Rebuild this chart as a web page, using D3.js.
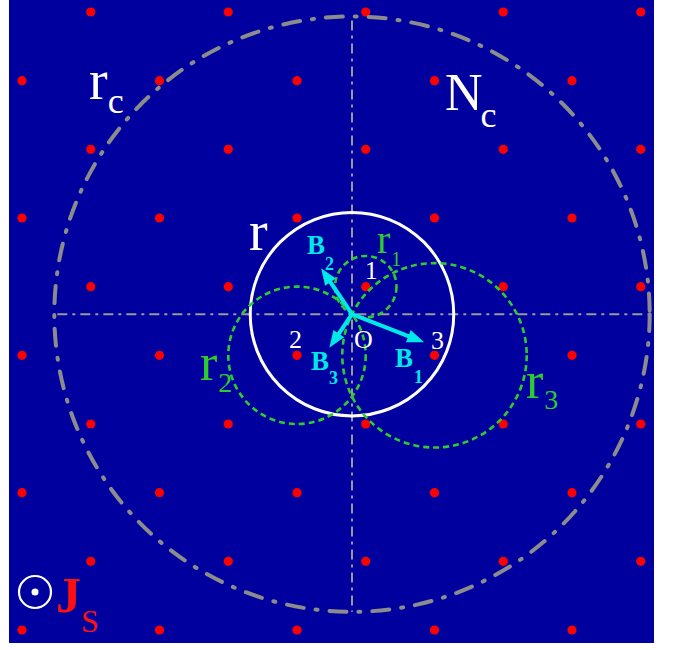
<!DOCTYPE html>
<html>
<head>
<meta charset="utf-8">
<script src="https://cdn.jsdelivr.net/npm/d3@7"></script>
<style>
  html,body{margin:0;padding:0;background:#fff;}
  svg{display:block;}
  text{font-family:"Liberation Serif","Times New Roman",serif;}
</style>
</head>
<body>
<script>
// ---- data (lattice units) ----
const latticeU = [0,1,2,3,4,5,6,7,8,9];
const latticeV = [0,1,2,3,4,5,6,7,8,9];
const origin = {u:4.8, v:4.4};
const cutoffRadius = 4.33;   // r_c
const innerRadius = 1.48;    // r
const neighbours = [ {name:"1", u:5, v:4}, {name:"2", u:4, v:5}, {name:"3", u:6, v:5} ];
const bVectors = [ {name:"1", du:1.05, dv:0.41}, {name:"2", du:-0.45, dv:-0.67}, {name:"3", du:-0.33, dv:0.49} ];

const W = 678, H = 650;
const svg = d3.select("body").append("svg").attr("width", W).attr("height", H);

const x = d3.scaleLinear().domain([0, 9]).range([22, 640.75]);
const y = d3.scaleLinear().domain([0, 9]).range([12, 630]);
const k = (x(1) - x(0)); // px per unit

// background
svg.append("rect").attr("x", 9).attr("y", 0).attr("width", 645).attr("height", 643).attr("fill", "#00009e");

const ox = x(origin.u), oy = y(origin.v);

// lattice points
const pts = [];
latticeV.forEach(v => latticeU.forEach(u => { if ((u + v) % 2 === 1) pts.push({u, v}); }));
svg.append("g").selectAll("circle").data(pts).join("circle")
  .attr("cx", d => x(d.u)).attr("cy", d => y(d.v)).attr("r", 4.6).attr("fill", "#ff0000");

// crosshair
const gray = "#8c8c8c";
svg.append("line").attr("x1", ox - cutoffRadius * k + 3).attr("x2", ox + cutoffRadius * k - 2)
  .attr("y1", oy).attr("y2", oy).attr("stroke", "#999").attr("stroke-width", 2).attr("stroke-dasharray", "10,5,3,5");
svg.append("line").attr("x1", ox).attr("x2", ox)
  .attr("y1", oy - cutoffRadius * k + 4).attr("y2", oy + cutoffRadius * k)
  .attr("stroke", "#999").attr("stroke-width", 2).attr("stroke-dasharray", "10,5,3,5");

// cutoff circle
svg.append("circle").attr("cx", ox).attr("cy", oy).attr("r", cutoffRadius * k)
  .attr("fill", "none").attr("stroke", gray).attr("stroke-width", 4)
  .attr("stroke-linecap", "round").attr("stroke-dasharray", "17,12,2,12");

// inner circle r
svg.append("circle").attr("cx", ox).attr("cy", oy).attr("r", innerRadius * k)
  .attr("fill", "none").attr("stroke", "#ffffff").attr("stroke-width", 3);

// neighbour circles through O
const green = "#2fcc2f";
svg.append("g").selectAll("circle").data(neighbours).join("circle")
  .attr("cx", d => x(d.u)).attr("cy", d => y(d.v))
  .attr("r", d => Math.hypot(x(d.u) - ox, y(d.v) - oy))
  .attr("fill", "none").attr("stroke", green).attr("stroke-width", 2.6).attr("stroke-dasharray", "6,4");

// B vectors
const cyan = "#00e8e8";
bVectors.forEach(b => {
  const tx = x(origin.u + b.du), ty = y(origin.v + b.dv);
  const ang = Math.atan2(ty - oy, tx - ox);
  const hl = 17, hw = 6.5;
  const bx = tx - hl * Math.cos(ang), by = ty - hl * Math.sin(ang);
  svg.append("line").attr("x1", ox).attr("y1", oy).attr("x2", bx + 2 * Math.cos(ang)).attr("y2", by + 2 * Math.sin(ang))
    .attr("stroke", cyan).attr("stroke-width", 4.2);
  const px = -Math.sin(ang), py = Math.cos(ang);
  svg.append("path").attr("d", `M${tx},${ty}L${bx + hw * px},${by + hw * py}L${bx - hw * px},${by - hw * py}Z`)
    .attr("fill", cyan);
});

// labels
function lab(txt, xx, yy, size, color, weight, sub, subSize, subDx, subDy, subWeight) {
  const t = svg.append("text").attr("x", xx).attr("y", yy).attr("font-size", size)
    .attr("fill", color).attr("font-weight", weight || "normal");
  t.append("tspan").text(txt);
  if (sub) {
    t.append("tspan").attr("dx", subDx).attr("dy", subDy).attr("font-size", subSize)
      .attr("font-weight", subWeight || weight || "normal").text(sub);
  }
}
lab("r", 249, 250, 56, "#fff");
lab("r", 89, 99, 56, "#fff", null, "c", 36, 0, 14);
lab("N", 445, 110, 52, "#fff", null, "c", 36, -2, 17);
lab("r", 377, 253, 40, green, null, "1", 20, 1, 13);
lab("r", 200, 380, 52, green, null, "2", 28, 1, 12);
lab("r", 526, 398, 52, green, null, "3", 28, 1, 11);
lab("1", 365, 279, 25, "#fff");
lab("2", 289, 348, 26, "#fff");
lab("O", 354, 348, 26, "#fff");
lab("3", 431, 349, 26, "#fff");
lab("B", 307, 254, 27, cyan, "bold", "2", 18, 0, 16);
lab("B", 311, 370, 27, cyan, "bold", "3", 18, 0, 14);
lab("B", 395, 367, 27, cyan, "bold", "1", 18, 1, 16);

// J_S symbol
svg.append("circle").attr("cx", 35).attr("cy", 592).attr("r", 16).attr("fill", "none").attr("stroke", "#fff").attr("stroke-width", 2.2);
svg.append("circle").attr("cx", 35).attr("cy", 592).attr("r", 3.5).attr("fill", "#fff");
lab("J", 56, 612, 50, "#ff1010", "bold", "S", 32, 0, 20, "normal");
</script>
</body>
</html>
